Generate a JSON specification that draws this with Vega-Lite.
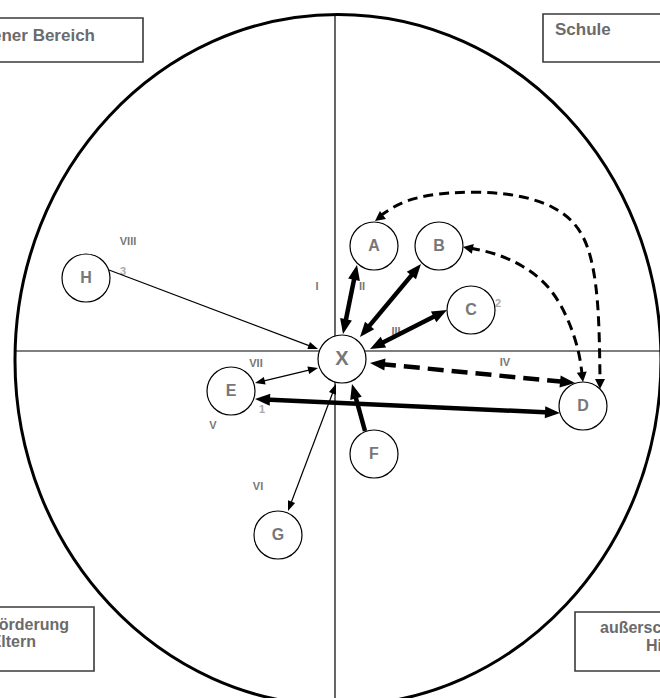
{
  "$schema": "https://vega.github.io/schema/vega-lite/v6.json",
  "width": 660,
  "height": 698,
  "padding": 0,
  "autosize": {"type": "none"},
  "background": "white",
  "config": {"view": {"stroke": null}, "font": "Liberation Sans"},
  "datasets": {
    "ellipse": [{"x": 338, "y": 360}],
    "quad": [
      {"x": 15, "y": 351, "x2": 660, "y2": 351},
      {"x": 335, "y": 14, "x2": 335, "y2": 698}
    ],
    "boxes": [
      {"name": "tl", "x": -5, "y": 18, "x2": 143, "y2": 62},
      {"name": "tr", "x": 543, "y": 14, "x2": 665, "y2": 62},
      {"name": "bl", "x": -5, "y": 607, "x2": 94, "y2": 671},
      {"name": "br", "x": 575, "y": 612, "x2": 665, "y2": 671}
    ],
    "boxtext": [
      {"text": "Eigener Bereich", "x": 95, "y": 41, "g": "top-right"},
      {"text": "Schule", "x": 555, "y": 35, "g": "top-left"},
      {"text": "Förderung", "x": 69, "y": 630, "g": "bottom-right"},
      {"text": "Eltern", "x": 36, "y": 647, "g": "bottom-right"},
      {"text": "außerschulische", "x": 600, "y": 633, "g": "bottom-left"},
      {"text": "Hilfen", "x": 646, "y": 651, "g": "bottom-left"}
    ],
    "roman": [
      {"t": "I", "x": 317, "y": 287},
      {"t": "II", "x": 362, "y": 287},
      {"t": "III", "x": 396, "y": 332},
      {"t": "IV", "x": 505, "y": 363},
      {"t": "V", "x": 213, "y": 426},
      {"t": "VI", "x": 258, "y": 487},
      {"t": "VII", "x": 256, "y": 364},
      {"t": "VIII", "x": 128, "y": 242}
    ],
    "nums": [
      {"t": "2", "x": 498, "y": 304},
      {"t": "1", "x": 262, "y": 410},
      {"t": "3", "x": 123, "y": 272}
    ],
    "edges": [
      {"e": "X-A", "x": 343, "y": 334, "x2": 357, "y2": 265, "h1": 1, "h2": 1, "k": "thick"},
      {"e": "X-B", "x": 360, "y": 337, "x2": 421, "y2": 264, "h1": 1, "h2": 1, "k": "thick"},
      {"e": "X-C", "x": 370, "y": 349, "x2": 447, "y2": 310, "h1": 1, "h2": 1, "k": "thick"},
      {"e": "E-D", "x": 255, "y": 399, "x2": 560, "y2": 413, "h1": 1, "h2": 1, "k": "thick"},
      {"e": "F-X", "x": 365, "y": 431, "x2": 352, "y2": 384, "h1": 0, "h2": 1, "k": "thick"},
      {"e": "X-D", "x": 370, "y": 363, "x2": 575, "y2": 383, "h1": 1, "h2": 1, "k": "dash"},
      {"e": "E-X", "x": 255, "y": 383, "x2": 318, "y2": 368, "h1": 1, "h2": 1, "k": "thin"},
      {"e": "G-X", "x": 288, "y": 511, "x2": 336, "y2": 384, "h1": 1, "h2": 1, "k": "thin"},
      {"e": "H-X", "x": 109, "y": 270, "x2": 318, "y2": 349, "h1": 0, "h2": 1, "k": "thin"}
    ],
    "heads": [
      {"x": 343, "y": 334, "px": 357, "py": 265, "k": "thick"},
      {"x": 357, "y": 265, "px": 343, "py": 334, "k": "thick"},
      {"x": 360, "y": 337, "px": 421, "py": 264, "k": "thick"},
      {"x": 421, "y": 264, "px": 360, "py": 337, "k": "thick"},
      {"x": 370, "y": 349, "px": 447, "py": 310, "k": "thick"},
      {"x": 447, "y": 310, "px": 370, "py": 349, "k": "thick"},
      {"x": 255, "y": 399, "px": 560, "py": 413, "k": "thick"},
      {"x": 560, "y": 413, "px": 255, "py": 399, "k": "thick"},
      {"x": 352, "y": 384, "px": 365, "py": 431, "k": "thick"},
      {"x": 370, "y": 363, "px": 575, "py": 383, "k": "thick"},
      {"x": 575, "y": 383, "px": 370, "py": 363, "k": "thick"},
      {"x": 255, "y": 383, "px": 318, "py": 368, "k": "thin"},
      {"x": 318, "y": 368, "px": 255, "py": 383, "k": "thin"},
      {"x": 336, "y": 384, "px": 288, "py": 511, "k": "thin"},
      {"x": 288, "y": 511, "px": 336, "py": 384, "k": "thin"},
      {"x": 318, "y": 349, "px": 109, "py": 270, "k": "thin"},
      {"x": 375, "y": 221, "px": 392, "py": 208, "k": "curve"},
      {"x": 463, "y": 247, "px": 478, "py": 250, "k": "curve"},
      {"x": 583, "y": 382, "px": 581, "py": 366, "k": "curve"},
      {"x": 600, "y": 389, "px": 600, "py": 372, "k": "curve"}
    ],
    "curves": [
      {"c": "AD", "i": 0, "x": 380, "y": 216},
      {"c": "AD", "i": 1, "x": 407, "y": 201},
      {"c": "AD", "i": 2, "x": 450, "y": 193},
      {"c": "AD", "i": 3, "x": 505, "y": 194},
      {"c": "AD", "i": 4, "x": 552, "y": 207},
      {"c": "AD", "i": 5, "x": 582, "y": 235},
      {"c": "AD", "i": 6, "x": 595, "y": 280},
      {"c": "AD", "i": 7, "x": 599, "y": 330},
      {"c": "AD", "i": 8, "x": 600, "y": 380},
      {"c": "BD", "i": 0, "x": 470, "y": 248},
      {"c": "BD", "i": 1, "x": 495, "y": 254},
      {"c": "BD", "i": 2, "x": 522, "y": 266},
      {"c": "BD", "i": 3, "x": 548, "y": 287},
      {"c": "BD", "i": 4, "x": 567, "y": 318},
      {"c": "BD", "i": 5, "x": 578, "y": 350},
      {"c": "BD", "i": 6, "x": 582, "y": 374}
    ],
    "nodes": [
      {"id": "X", "x": 342, "y": 359},
      {"id": "A", "x": 374, "y": 246},
      {"id": "B", "x": 439, "y": 246},
      {"id": "C", "x": 471, "y": 310},
      {"id": "D", "x": 583, "y": 406},
      {"id": "E", "x": 231, "y": 391},
      {"id": "F", "x": 374, "y": 454},
      {"id": "G", "x": 278, "y": 535},
      {"id": "H", "x": 86, "y": 278}
    ]
  },
  "encoding": {
    "x": {"field": "x", "type": "quantitative", "scale": {"domain": [0, 660], "nice": false, "zero": false}, "axis": null},
    "y": {"field": "y", "type": "quantitative", "scale": {"domain": [0, 698], "reverse": true, "nice": false, "zero": false}, "axis": null}
  },
  "layer": [
    {
      "data": {"name": "ellipse"},
      "mark": {"type": "point", "shape": "M -0.9349 0 A 0.9349 1 0 1 1 0.9349 0 A 0.9349 1 0 1 1 -0.9349 0 Z", "size": 477481, "filled": false, "stroke": "black", "strokeWidth": 3, "opacity": 1}
    },
    {
      "data": {"name": "quad"},
      "mark": {"type": "rule", "color": "black", "strokeWidth": 1.2},
      "encoding": {"x2": {"field": "x2"}, "y2": {"field": "y2"}}
    },
    {
      "data": {"name": "boxes"},
      "mark": {"type": "rect", "fill": "white", "stroke": "#3a3a3a", "strokeWidth": 1.6},
      "encoding": {"x2": {"field": "x2"}, "y2": {"field": "y2"}}
    },
    {
      "data": {"name": "boxtext"},
      "transform": [{"filter": "datum.g == 'top-right'"}],
      "mark": {"type": "text", "align": "right", "baseline": "alphabetic", "font": "Liberation Sans", "fontWeight": "bold", "fontSize": 17, "color": "#6b6b6b"},
      "encoding": {"text": {"field": "text"}}
    },
    {
      "data": {"name": "boxtext"},
      "transform": [{"filter": "datum.g == 'top-left'"}],
      "mark": {"type": "text", "align": "left", "baseline": "alphabetic", "font": "Liberation Sans", "fontWeight": "bold", "fontSize": 17, "color": "#6b6b6b"},
      "encoding": {"text": {"field": "text"}}
    },
    {
      "data": {"name": "boxtext"},
      "transform": [{"filter": "datum.g == 'bottom-right'"}],
      "mark": {"type": "text", "align": "right", "baseline": "alphabetic", "font": "Liberation Sans", "fontWeight": "bold", "fontSize": 16, "color": "#6b6b6b"},
      "encoding": {"text": {"field": "text"}}
    },
    {
      "data": {"name": "boxtext"},
      "transform": [{"filter": "datum.g == 'bottom-left'"}],
      "mark": {"type": "text", "align": "left", "baseline": "alphabetic", "font": "Liberation Sans", "fontWeight": "bold", "fontSize": 16, "color": "#6b6b6b"},
      "encoding": {"text": {"field": "text"}}
    },
    {
      "data": {"name": "roman"},
      "mark": {"type": "text", "align": "center", "baseline": "middle", "font": "Liberation Sans", "fontWeight": "bold", "fontSize": 11, "color": "#777777"},
      "encoding": {"text": {"field": "t"}}
    },
    {
      "data": {"name": "nums"},
      "mark": {"type": "text", "align": "center", "baseline": "middle", "font": "Liberation Sans", "fontWeight": "bold", "fontSize": 11, "color": "#aaaaaa"},
      "encoding": {"text": {"field": "t"}}
    },
    {
      "data": {"name": "curves"},
      "mark": {"type": "line", "interpolate": "natural", "color": "black", "strokeWidth": 3, "strokeDash": [10, 6]},
      "encoding": {"detail": {"field": "c"}, "order": {"field": "i", "type": "quantitative"}}
    },
    {
      "data": {"name": "edges"},
      "transform": [
        {"calculate": "sqrt(pow(datum.x2 - datum.x, 2) + pow(datum.y2 - datum.y, 2))", "as": "len"},
        {"calculate": "datum.k == 'thin' ? 4 : 10", "as": "sh"},
        {"calculate": "datum.x + (datum.x2 - datum.x) / datum.len * datum.sh * datum.h1", "as": "sx"},
        {"calculate": "datum.y + (datum.y2 - datum.y) / datum.len * datum.sh * datum.h1", "as": "sy"},
        {"calculate": "datum.x2 - (datum.x2 - datum.x) / datum.len * datum.sh * datum.h2", "as": "sx2"},
        {"calculate": "datum.y2 - (datum.y2 - datum.y) / datum.len * datum.sh * datum.h2", "as": "sy2"}
      ],
      "layer": [
        {
          "transform": [{"filter": "datum.k == 'thick'"}],
          "mark": {"type": "rule", "color": "black", "strokeWidth": 4.5},
          "encoding": {
            "x": {"field": "sx", "type": "quantitative", "scale": {"domain": [0, 660], "nice": false, "zero": false}, "axis": null},
            "y": {"field": "sy", "type": "quantitative", "scale": {"domain": [0, 698], "reverse": true, "nice": false, "zero": false}, "axis": null},
            "x2": {"field": "sx2"}, "y2": {"field": "sy2"}
          }
        },
        {
          "transform": [{"filter": "datum.k == 'dash'"}],
          "mark": {"type": "rule", "color": "black", "strokeWidth": 4.5, "strokeDash": [16, 8]},
          "encoding": {
            "x": {"field": "sx", "type": "quantitative", "scale": {"domain": [0, 660], "nice": false, "zero": false}, "axis": null},
            "y": {"field": "sy", "type": "quantitative", "scale": {"domain": [0, 698], "reverse": true, "nice": false, "zero": false}, "axis": null},
            "x2": {"field": "sx2"}, "y2": {"field": "sy2"}
          }
        },
        {
          "transform": [{"filter": "datum.k == 'thin'"}],
          "mark": {"type": "rule", "color": "black", "strokeWidth": 1.2},
          "encoding": {
            "x": {"field": "sx", "type": "quantitative", "scale": {"domain": [0, 660], "nice": false, "zero": false}, "axis": null},
            "y": {"field": "sy", "type": "quantitative", "scale": {"domain": [0, 698], "reverse": true, "nice": false, "zero": false}, "axis": null},
            "x2": {"field": "sx2"}, "y2": {"field": "sy2"}
          }
        }
      ]
    },
    {
      "data": {"name": "heads"},
      "transform": [{"calculate": "atan2(datum.x - datum.px, datum.py - datum.y) * 180 / PI", "as": "ang"}],
      "layer": [
        {
          "transform": [{"filter": "datum.k == 'thick'"}],
          "mark": {"type": "point", "shape": "M 0 0 L -0.4 1 L 0.4 1 Z", "size": 900, "filled": true, "color": "black", "opacity": 1, "strokeWidth": 0},
          "encoding": {"angle": {"field": "ang", "type": "quantitative", "scale": null}}
        },
        {
          "transform": [{"filter": "datum.k == 'thin'"}],
          "mark": {"type": "point", "shape": "M 0 0 L -0.38 1 L 0.38 1 Z", "size": 400, "filled": true, "color": "black", "opacity": 1, "strokeWidth": 0},
          "encoding": {"angle": {"field": "ang", "type": "quantitative", "scale": null}}
        },
        {
          "transform": [{"filter": "datum.k == 'curve'"}],
          "mark": {"type": "point", "shape": "M 0 0 L -0.5 1 L 0.5 1 Z", "size": 400, "filled": true, "color": "black", "opacity": 1, "strokeWidth": 0},
          "encoding": {"angle": {"field": "ang", "type": "quantitative", "scale": null}}
        }
      ]
    },
    {
      "data": {"name": "nodes"},
      "mark": {"type": "point", "shape": "circle", "size": 2304, "filled": true, "fill": "white", "stroke": "black", "strokeWidth": 1.2, "opacity": 1}
    },
    {
      "data": {"name": "nodes"},
      "transform": [{"filter": "datum.id != 'X'"}],
      "mark": {"type": "text", "align": "center", "baseline": "middle", "font": "Liberation Sans", "fontWeight": "bold", "fontSize": 16, "color": "#777777"},
      "encoding": {"text": {"field": "id"}}
    },
    {
      "data": {"name": "nodes"},
      "transform": [{"filter": "datum.id == 'X'"}],
      "mark": {"type": "text", "align": "center", "baseline": "middle", "font": "Liberation Sans", "fontWeight": "bold", "fontSize": 20, "color": "#777777"},
      "encoding": {"text": {"field": "id"}}
    }
  ]
}
